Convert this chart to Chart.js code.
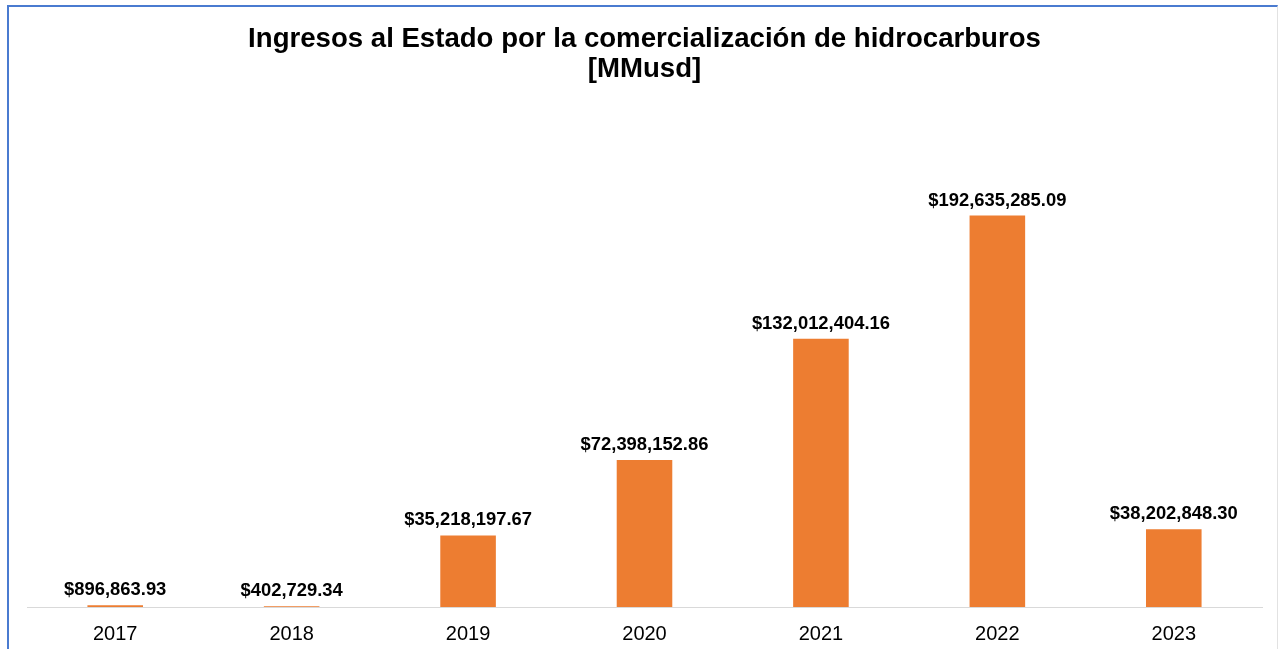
<!DOCTYPE html>
<html>
<head>
<meta charset="utf-8">
<script src="https://cdn.jsdelivr.net/npm/chart.js@4/dist/chart.umd.min.js"></script>
<style>
  html, body { margin: 0; padding: 0; background: #fff; }
  body { width: 1278px; height: 649px; position: relative; overflow: hidden; }
  #marco {
    position: absolute; left: 7px; top: 5px; width: 1268px; height: 700px;
    border-top: 2px solid #4a7bd0; border-left: 2px solid #4a7bd0; border-right: 1px solid #e2e2e2;
  }
  #lienzo { position: absolute; left: 0; top: 0; width: 1278px; height: 649px; }
</style>
</head>
<body>
<div id="marco"></div>
<div id="lienzo"><canvas id="grafico"></canvas></div>
<script>
const anios = ["2017", "2018", "2019", "2020", "2021", "2022", "2023"];
const ingresos = [896863.93, 402729.34, 35218197.67, 72398152.86, 132012404.16, 192635285.09, 38202848.30];
const titulo = ["Ingresos al Estado por la comercialización de hidrocarburos", "[MMusd]"];

const fuente = "'Liberation Sans', Arial, sans-serif";

function formatoDolar(v) {
  return "$" + v.toLocaleString("en-US", { minimumFractionDigits: 2, maximumFractionDigits: 2 });
}

// etiquetas de valor encima de cada barra
const etiquetasValor = {
  id: "etiquetasValor",
  afterDatasetsDraw(chart) {
    const ctx = chart.ctx;
    const meta = chart.getDatasetMeta(0);
    ctx.save();
    ctx.font = "bold 18.4px " + fuente;
    ctx.fillStyle = "#000";
    ctx.textAlign = "center";
    ctx.textBaseline = "alphabetic";
    meta.data.forEach((barra, i) => {
      ctx.fillText(formatoDolar(ingresos[i]), barra.x, barra.y - 10);
    });
    ctx.restore();
  }
};

const ctx = document.getElementById("grafico").getContext("2d");

new Chart(ctx, {
  type: "bar",
  data: {
    labels: anios,
    datasets: [{
      data: ingresos,
      backgroundColor: "#ed7d31",
      borderWidth: 0,
      categoryPercentage: 1,
      barPercentage: 0.315
    }]
  },
  options: {
    responsive: true,
    maintainAspectRatio: false,
    animation: false,
    layout: { padding: { left: 27, right: 16, top: 0, bottom: -12 } },
    scales: {
      x: {
        grid: { display: false, drawTicks: false },
        border: { display: true, color: "#d9d9d9", width: 1 },
        ticks: { color: "#000", padding: 15, font: { family: fuente, size: 20 } }
      },
      y: {
        display: false,
        min: 0,
        max: 250500000
      }
    },
    plugins: {
      legend: { display: false },
      tooltip: { enabled: false },
      title: {
        display: true,
        text: titulo,
        color: "#000",
        font: { family: fuente, size: 27.6, weight: "bold", lineHeight: 1.087 },
        padding: { top: 24, bottom: 14 }
      }
    }
  },
  plugins: [etiquetasValor]
});
</script>
</body>
</html>
